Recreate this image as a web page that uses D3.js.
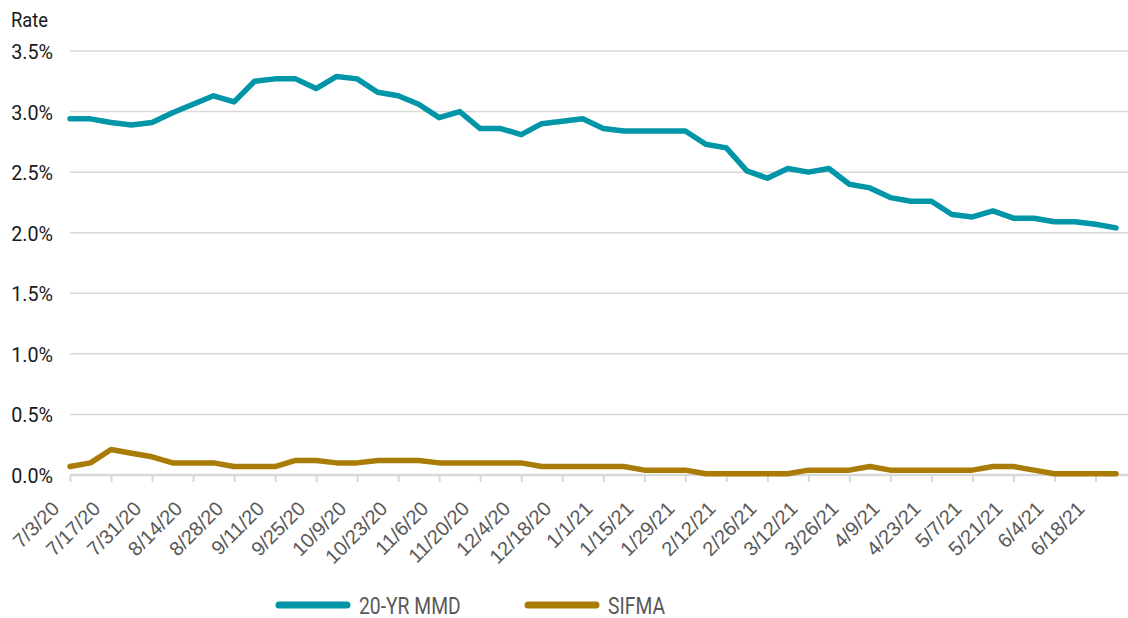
<!DOCTYPE html>
<html>
<head>
<meta charset="utf-8">
<script src="https://cdn.jsdelivr.net/npm/d3@7"></script>
<style>
  html, body { margin: 0; padding: 0; background: #fff; }
  svg { display: block; font-family: Roboto, "Noto Sans", sans-serif; }
</style>
</head>
<body>
<svg id="chart" width="1128" height="618"></svg>
<script>
// ── Data ─────────────────────────────────────────────
const dates = [
  '7/3/20','7/10/20','7/17/20','7/24/20','7/31/20','8/7/20','8/14/20','8/21/20','8/28/20',
  '9/4/20','9/11/20','9/18/20','9/25/20','10/2/20','10/9/20','10/16/20','10/23/20','10/30/20',
  '11/6/20','11/13/20','11/20/20','11/27/20','12/4/20','12/11/20','12/18/20','12/25/20',
  '1/1/21','1/8/21','1/15/21','1/22/21','1/29/21','2/5/21','2/12/21','2/19/21','2/26/21',
  '3/5/21','3/12/21','3/19/21','3/26/21','4/2/21','4/9/21','4/16/21','4/23/21','4/30/21',
  '5/7/21','5/14/21','5/21/21','5/28/21','6/4/21','6/11/21','6/18/21','6/25/21'
];

// 20-YR MMD yield, %
const mmd = [
  2.94, 2.94, 2.91, 2.89, 2.91, 2.99, 3.06, 3.13, 3.08, 3.25, 3.27, 3.27, 3.19,
  3.29, 3.27, 3.16, 3.13, 3.06, 2.95, 3.00, 2.86, 2.86, 2.81, 2.90, 2.92, 2.94,
  2.86, 2.84, 2.84, 2.84, 2.84, 2.73, 2.70, 2.51, 2.45, 2.53, 2.50, 2.53, 2.40,
  2.37, 2.29, 2.26, 2.26, 2.15, 2.13, 2.18, 2.12, 2.12, 2.09, 2.09, 2.07, 2.04
];

// SIFMA index, %
const sifma = [
  0.07, 0.10, 0.21, 0.18, 0.15, 0.10, 0.10, 0.10, 0.07, 0.07, 0.07, 0.12, 0.12,
  0.10, 0.10, 0.12, 0.12, 0.12, 0.10, 0.10, 0.10, 0.10, 0.10, 0.07, 0.07, 0.07,
  0.07, 0.07, 0.04, 0.04, 0.04, 0.01, 0.01, 0.01, 0.01, 0.01, 0.04, 0.04, 0.04,
  0.07, 0.04, 0.04, 0.04, 0.04, 0.04, 0.07, 0.07, 0.04, 0.01, 0.01, 0.01, 0.01
];

const yTicks = [0, 0.5, 1.0, 1.5, 2.0, 2.5, 3.0, 3.5];
const tickDates = dates.filter((d, i) => i % 2 === 0);

const series = [
  { name: '20-YR MMD', values: mmd,   color: '#0096a8' },
  { name: 'SIFMA',     values: sifma, color: '#a97b07' },
];

// ── Layout ───────────────────────────────────────────
const svg = d3.select('#chart');
const W = 1128, H = 618;
const plotL = 70, plotR = 1116, plotT = 51, plotB = 475;

const x = d3.scalePoint().domain(dates).range([plotL, plotR]);
const y = d3.scaleLinear().domain([0, 3.5]).range([plotB, plotT]);

// Gridlines
svg.append('g')
  .selectAll('line')
  .data(yTicks.filter(v => v > 0))
  .join('line')
  .attr('x1', plotL).attr('x2', W)
  .attr('y1', d => y(d)).attr('y2', d => y(d))
  .attr('stroke', '#d9d9d9').attr('stroke-width', 1.5);

// Y axis labels (condensed a bit to mimic the original face)
svg.append('g')
  .selectAll('text')
  .data(yTicks)
  .join('text')
  .attr('transform', d => `translate(53,${y(d) + 8}) scale(0.94,1)`)
  .attr('text-anchor', 'end')
  .attr('fill', '#1a1a1a')
  .attr('font-size', 21)
  .text(d => d.toFixed(1) + '%');

svg.append('text')
  .attr('transform', 'translate(11,27) scale(0.92,1)')
  .attr('fill', '#1a1a1a')
  .attr('font-size', 20)
  .text('Rate');

// X axis
const xAxis = svg.append('g')
  .attr('transform', `translate(0,${plotB})`)
  .call(d3.axisBottom(x).tickValues(tickDates).tickSize(7).tickSizeOuter(0));

xAxis.select('.domain')
  .attr('d', `M${plotL},0H${W}`)
  .attr('stroke', '#d9d9d9').attr('stroke-width', 2.5);
xAxis.selectAll('.tick line').attr('stroke', '#d9d9d9').attr('stroke-width', 2);
xAxis.selectAll('.tick text')
  .attr('fill', '#595959')
  .attr('font-size', 20)
  .attr('font-family', 'inherit')
  .attr('text-anchor', 'end')
  .attr('y', 0).attr('dy', 0)
  .attr('transform', 'translate(-10,35) rotate(-45)');

// Lines
const line = d3.line()
  .x((d, i) => x(dates[i]))
  .y(d => y(d));

svg.append('g')
  .selectAll('path')
  .data(series)
  .join('path')
  .attr('d', s => line(s.values))
  .attr('fill', 'none')
  .attr('stroke', s => s.color)
  .attr('stroke-width', 5.5)
  .attr('stroke-linejoin', 'round')
  .attr('stroke-linecap', 'round');

// Legend
const legendX = [279, 528];
const legend = svg.append('g')
  .selectAll('g')
  .data(series)
  .join('g')
  .attr('transform', (d, i) => `translate(${legendX[i]},605)`);

legend.append('line')
  .attr('x1', 0).attr('x2', 68)
  .attr('stroke', d => d.color)
  .attr('stroke-width', 7)
  .attr('stroke-linecap', 'round');

legend.append('text')
  .attr('transform', 'translate(80,8.5) scale(0.84,1)')
  .attr('fill', '#595959')
  .attr('font-size', 23)
  .text(d => d.name);
</script>
</body>
</html>
